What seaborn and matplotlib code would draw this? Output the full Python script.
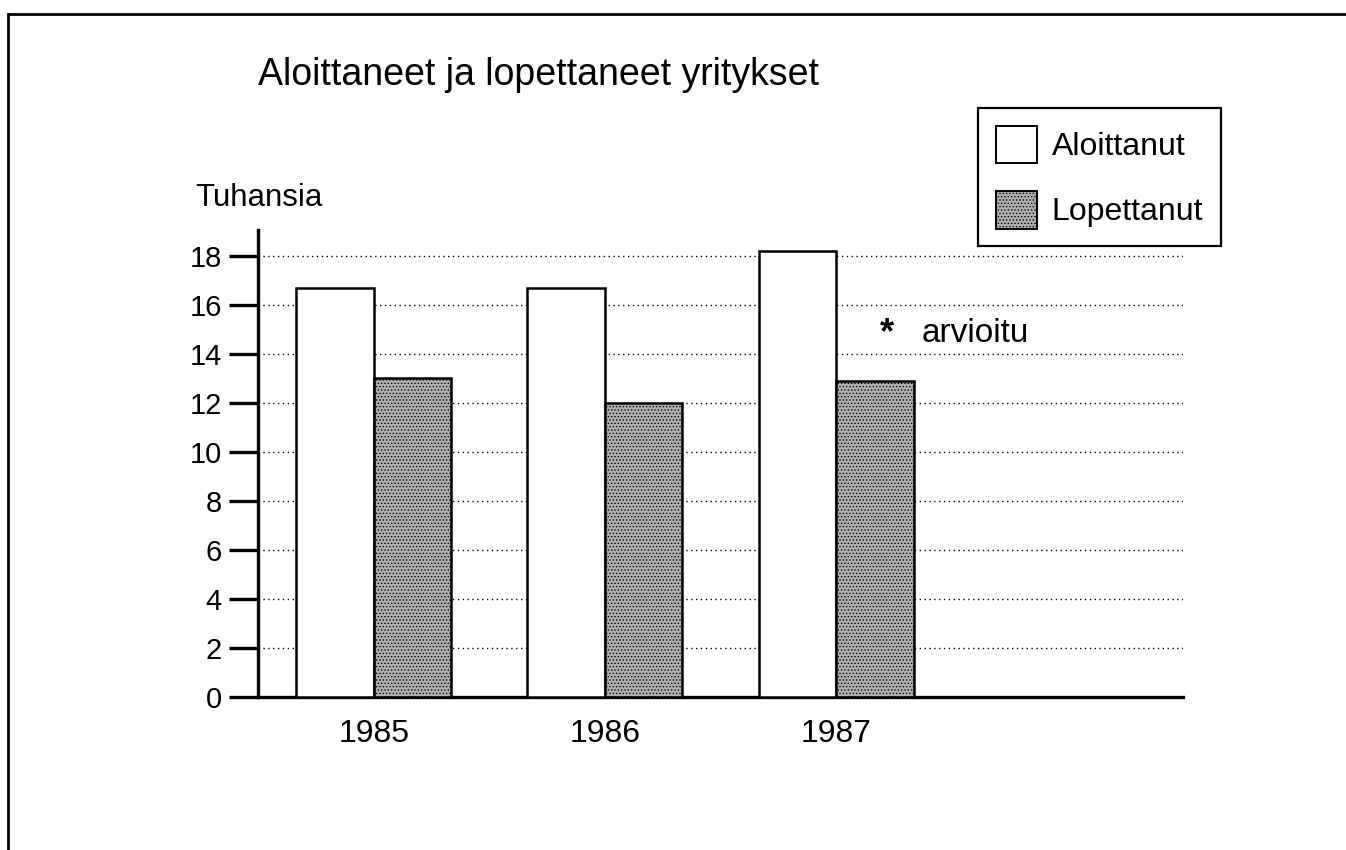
import pandas as pd
import matplotlib.pyplot as plt
import seaborn as sns
from matplotlib.patches import Patch, Rectangle

# Data (thousands of firms)
YEARS = ['1985', '1986', '1987']
ALOITTANUT = [16.7, 16.7, 18.2]
LOPETTANUT = [13.0, 12.0, 12.9]
SERIES = ['Aloittanut', 'Lopettanut']
Y_TICKS = [0, 2, 4, 6, 8, 10, 12, 14, 16, 18]

df = pd.DataFrame({
    'vuosi': YEARS * 2,
    'tuhansia': ALOITTANUT + LOPETTANUT,
    'sarja': [SERIES[0]] * len(YEARS) + [SERIES[1]] * len(YEARS),
})

sns.set_theme(style="white")
plt.rcParams['font.family'] = ['Liberation Sans', 'DejaVu Sans']
plt.rcParams['text.color'] = 'black'
plt.rcParams['xtick.color'] = 'black'
plt.rcParams['ytick.color'] = 'black'
plt.rcParams['hatch.linewidth'] = 0.6
plt.rcParams['hatch.color'] = '#555555'

GREY = '#b0b0b0'

fig = plt.figure(figsize=(13.46, 8.5), dpi=100)
ax = fig.add_axes([0.1917, 0.18, 0.6872, 0.5494])

palette = {'Aloittanut': 'white', 'Lopettanut': GREY}
sns.barplot(data=df, x='vuosi', y='tuhansia', hue='sarja', order=YEARS,
            palette=palette, width=0.67, edgecolor='black', linewidth=1.8,
            legend=False, ax=ax, zorder=3)
for bar in ax.patches[len(YEARS):]:
    bar.set_hatch('.....')

ax.set_xlim(-0.5, 3.5)
ax.set_ylim(0, 19.06)
ax.set_yticks(Y_TICKS)
ax.set_xticks(range(len(YEARS)))
ax.set_xticklabels(YEARS)
ax.set_xlabel('')
ax.set_ylabel('')

# dotted gridlines
ax.yaxis.grid(True, linestyle=(0, (1, 2.5)), color='black', linewidth=1.0, zorder=0)
ax.set_axisbelow(True)

for side in ['top', 'right']:
    ax.spines[side].set_visible(False)
for side in ['left', 'bottom']:
    ax.spines[side].set_linewidth(2.4)
    ax.spines[side].set_color('black')

ax.tick_params(axis='y', direction='out', length=21, width=2.4, color='black',
               labelsize=21, pad=5, left=True)
ax.tick_params(axis='x', length=0, labelsize=23, pad=16)

fig.text(0.1917, 0.912, 'Aloittaneet ja lopettaneet yritykset', fontsize=27,
         ha='left', va='center')
fig.text(0.145, 0.767, 'Tuhansia', fontsize=22.5, ha='left', va='center')

fig.text(0.659, 0.607, '*', fontsize=26, ha='center', va='center', fontweight='bold')
fig.text(0.685, 0.608, 'arvioitu', fontsize=24, ha='left', va='center')

handles = [Patch(facecolor='white', edgecolor='black', linewidth=1.4, label=SERIES[0]),
           Patch(facecolor=GREY, edgecolor='black', linewidth=1.4, hatch='.....',
                 label=SERIES[1])]
leg = fig.legend(handles=handles, loc='upper left', bbox_to_anchor=(0.7266, 0.873),
                 borderaxespad=0, fontsize=23, frameon=True, fancybox=False,
                 framealpha=1, edgecolor='black', handlelength=1.3, handleheight=1.45,
                 handletextpad=0.45, labelspacing=0.85, borderpad=0.55)
leg.get_frame().set_linewidth(1.6)

# outer page frame of the scanned chart
fig.patches.append(Rectangle((0.006, -0.02), 1.1, 1.0035, transform=fig.transFigure,
                             fill=False, edgecolor='black', linewidth=2, zorder=0))

fig.savefig('out.png', dpi=100)
